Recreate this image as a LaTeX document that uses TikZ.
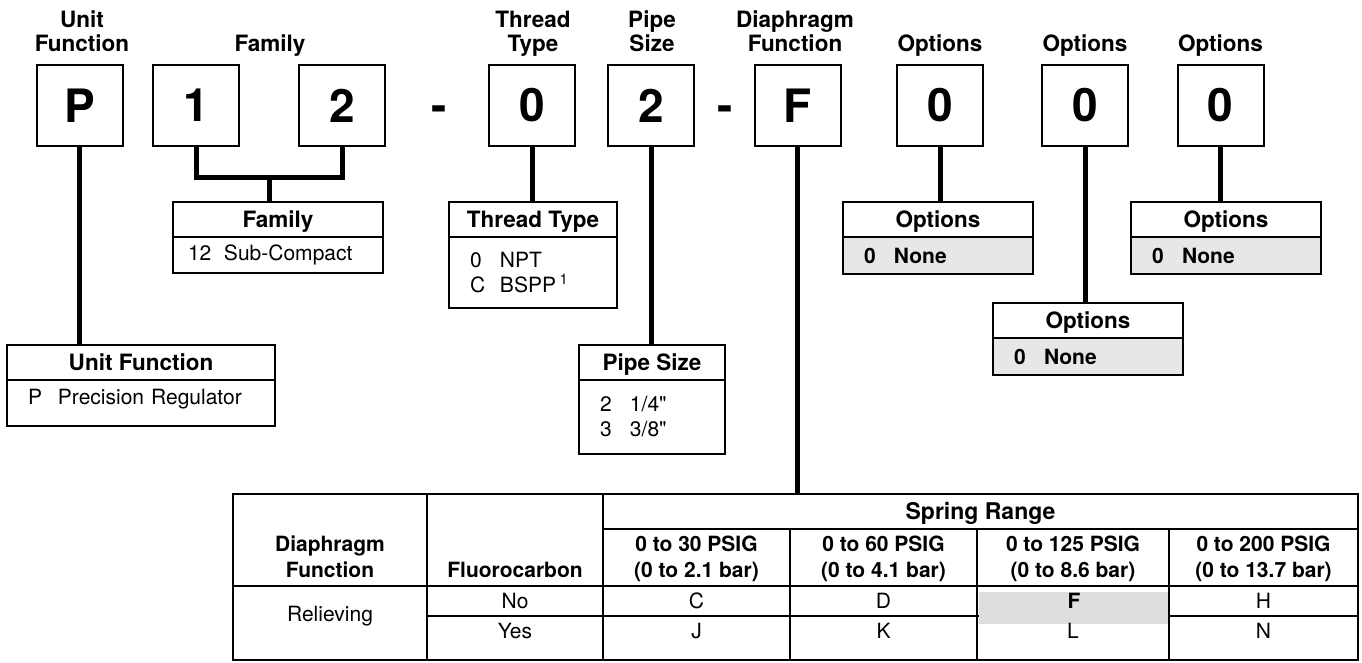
\documentclass[tikz,border=0pt]{standalone}
\usepackage{fontspec}
\setmainfont{TeX Gyre Heros}[Ligatures=TeXOff]
\usetikzlibrary{positioning}
\definecolor{optgray}{RGB}{230,231,232}
\definecolor{selgray}{RGB}{221,222,223}
\newcommand{\keyitem}[3][30pt]{\makebox[#1][l]{#2}#3}

\begin{document}
\begin{tikzpicture}[x=1pt, y=-1pt,
        codebox/.style={rectangle, draw, line width=2pt, minimum width=86pt, minimum height=81pt, inner sep=0pt, outer sep=0pt, font=\fontsize{46}{50}\selectfont\bfseries},
        hyph/.style={anchor=base, inner sep=0pt, font=\fontsize{46}{50}\selectfont\bfseries},
        lbl/.style={anchor=south, align=center, inner sep=0pt, text depth=0pt, font=\fontsize{22.5}{24}\selectfont\bfseries},
        keyhead/.style={rectangle, draw, line width=2pt, anchor=north west, minimum height=35pt, inner sep=0pt, outer sep=0pt, text height=16pt, text depth=0pt, font=\fontsize{22.5}{26}\selectfont\bfseries},
        keybody/.style={rectangle, draw, line width=2pt, anchor=north, inner xsep=21pt, inner ysep=0pt, outer sep=0pt, align=left, font=\fontsize{21}{25}\selectfont},
        optbody/.style={keybody, fill=optgray, font=\fontsize{21}{25}\selectfont\bfseries},
        link/.style={line width=5pt},
        grid/.style={line width=1.6pt},
        thead/.style={anchor=south, align=center, inner sep=0pt, text depth=0pt, font=\fontsize{21}{26}\selectfont\bfseries},
        tcell/.style={anchor=base, inner sep=0pt, font=\fontsize{21}{26}\selectfont}
    ]
        \useasboundingbox (0,0) rectangle (1362,662);

        % Model code boxes
        \node [codebox] (boxP) at (79.5,105.5) {P};
        \node [codebox] (box1) at (196,105.5) {1};
        \node [codebox] (box2) at (342,105.5) {2};
        \node [hyph] (hy1) at (439,121) {-};
        \node [codebox] (box0) at (532,105.5) {0};
        \node [codebox] (boxS) at (651,105.5) {2};
        \node [hyph] (hy2) at (725,121) {-};
        \node [codebox] (boxF) at (797.5,105.5) {F};
        \node [codebox] (boxO1) at (940,105.5) {0};
        \node [codebox] (boxO2) at (1085,105.5) {0};
        \node [codebox] (boxO3) at (1220.5,105.5) {0};

        % Labels above the boxes
        \node [lbl] (lblP) at (82,51.5) {Unit\\Function};
        \node [lbl] (lblfam) at (270,51.5) {Family};
        \node [lbl] (lblthread) at (533,51.5) {Thread\\Type};
        \node [lbl] (lblpipe) at (652,51.5) {Pipe\\Size};
        \node [lbl] (lbldiaph) at (795,51.5) {Diaphragm\\Function};
        \node [lbl] (lblO1) at (940,51.5) {Options};
        \node [lbl] (lblO2) at (1085,51.5) {Options};
        \node [lbl] (lblO3) at (1220.5,51.5) {Options};

        % Key boxes
        \node [keyhead, minimum width=210pt] (famhead) at (173,202) {Family};
        \node [keybody, below=0pt of famhead, inner xsep=15pt, text width=180pt, minimum height=36pt] (fambody) {\keyitem[36pt]{12}{Sub-Compact}};

        \node [keyhead, minimum width=168pt] (threadhead) at (449,202) {Thread Type};
        \node [keybody, below=0pt of threadhead, text width=126pt, minimum height=71pt] (threadbody) {\keyitem{0}{NPT}\\\keyitem{C}{BSPP\,\textsuperscript{1}}};

        \node [keyhead, minimum width=268pt] (unithead) at (7,345) {Unit Function};
        \node [keybody, below=0pt of unithead, text width=226pt, minimum height=46pt, text depth=12pt] (unitbody) {\keyitem{P}{Precision Regulator}};

        \node [keyhead, minimum width=146pt] (pipehead) at (579,345) {Pipe Size};
        \node [keybody, below=0pt of pipehead, text width=104pt, minimum height=74pt] (pipebody) {\keyitem{2}{1/4"}\\\keyitem{3}{3/8"}};

        \node [keyhead, minimum width=190pt] (opthead1) at (843,202) {Options};
        \node [optbody, below=0pt of opthead1, text width=148pt, minimum height=37pt] (optlist1) {\keyitem{0}{None}};
        \node [keyhead, minimum width=190pt] (opthead2) at (993,303) {Options};
        \node [optbody, below=0pt of opthead2, text width=148pt, minimum height=37pt] (optlist2) {\keyitem{0}{None}};
        \node [keyhead, minimum width=190pt] (opthead3) at (1131,202) {Options};
        \node [optbody, below=0pt of opthead3, text width=148pt, minimum height=37pt] (optlist3) {\keyitem{0}{None}};

        % Connectors
        \coordinate (famjoin) at (269,177);
        \draw [link] (boxP.south) -- (boxP.south |- unithead.north);
        \draw [link] (box1.south) |- (famjoin) -| (box2.south);
        \draw [link] (famjoin) -- (famjoin |- famhead.north);
        \draw [link] (box0.south) -- (box0.south |- threadhead.north);
        \draw [link] (boxS.south) -- (boxS.south |- pipehead.north);
        \draw [link] (boxO1.south) -- (boxO1.south |- opthead1.north);
        \draw [link] (boxO2.south) -- (boxO2.south |- opthead2.north);
        \draw [link] (boxO3.south) -- (boxO3.south |- opthead3.north);

        % Diaphragm function table
        \node [rectangle, draw, line width=2.2pt, anchor=north west, minimum width=1125pt, minimum height=166pt, inner sep=0pt, outer sep=0pt] (tbl) at (233,494) {};
        \draw [link] (boxF.south) -- (boxF.south |- tbl.north);

        \draw [grid] (427,494) -- (427,660);
        \draw [grid] (603,494) -- (603,660);
        \draw [grid] (790,529) -- (790,660);
        \draw [grid] (977,529) -- (977,660);
        \draw [grid] (1169,529) -- (1169,660);
        \draw [grid] (603,529) -- (1358,529);
        \draw [grid] (233,586) -- (1358,586);
        \draw [grid] (427,616) -- (1358,616);
        \fill [selgray] (978.5,592) rectangle (1168,624);

        \node [tcell, font=\fontsize{23}{26}\selectfont\bfseries] (thspring) at (980.5,519) {Spring Range};
        \node [thead] (thdiaph) at (330,578) {Diaphragm\\Function};
        \node [thead] (thfluor) at (515,578) {Fluorocarbon};
        \node [thead] (th30) at (696.5,578) {0 to 30 PSIG\\(0 to 2.1 bar)};
        \node [thead] (th60) at (883.5,578) {0 to 60 PSIG\\(0 to 4.1 bar)};
        \node [thead] (th125) at (1073,578) {0 to 125 PSIG\\(0 to 8.6 bar)};
        \node [thead] (th200) at (1263.5,578) {0 to 200 PSIG\\(0 to 13.7 bar)};

        \node [tcell] (cRel) at (330,621) {Relieving};
        \node [tcell] (cNo) at (515,608) {No};
        \node [tcell] (cYes) at (515,638) {Yes};
        \node [tcell] (cC) at (696.5,608) {C};
        \node [tcell] (cD) at (883.5,608) {D};
        \node [tcell, font=\fontsize{21}{26}\selectfont\bfseries] (cF) at (1074,608) {F};
        \node [tcell] (cH) at (1263.5,608) {H};
        \node [tcell] (cJ) at (696.5,638) {J};
        \node [tcell] (cK) at (883.5,638) {K};
        \node [tcell] (cL) at (1073,638) {L};
        \node [tcell] (cN) at (1263.5,638) {N};

    \end{tikzpicture}
\end{document}
